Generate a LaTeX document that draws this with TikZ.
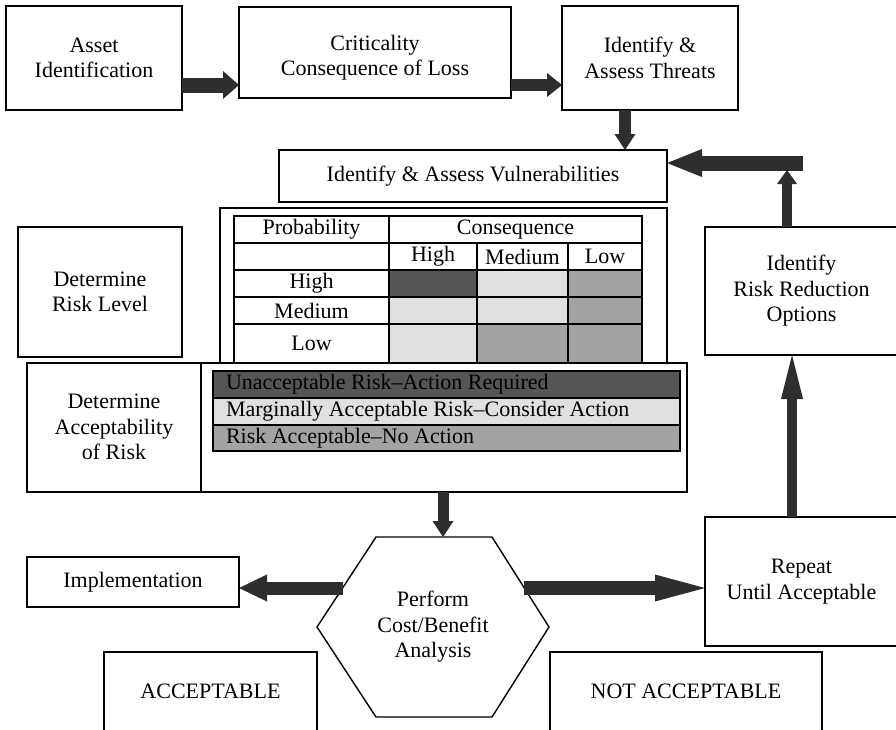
\documentclass[tikz,border=0pt]{standalone}
\usepackage{fontspec}
\setmainfont{Liberation Serif}
\usetikzlibrary{arrows.meta,calc}
\definecolor{arrowfill}{HTML}{2E2E2E}
\definecolor{riskhigh}{HTML}{555555}
\definecolor{riskmid}{HTML}{A3A3A3}
\definecolor{risklow}{HTML}{E0E0E0}
\begin{document}
\begin{tikzpicture}[x=1pt,y=-1pt,
  every node/.style={font=\fontsize{22}{25.5}\selectfont, inner sep=0pt, outer sep=0pt},
  box/.style={draw, line width=1.4pt, fill=white, align=center},
  txt/.style={align=center},
  grid/.style={line width=1.1pt},
  fat/.style n args={3}{draw=arrowfill, line width=#1,
    -{Triangle[width=#2,length=#3,line width=0pt]}},
]
\useasboundingbox (0,0) rectangle (896,729);
\clip (0,0) rectangle (896,729);

% ---- top row of process boxes
\node[box, minimum width=176pt, minimum height=104pt] (asset) at (94,58) {Asset\\Identification};
\node[box, minimum width=272pt, minimum height=91pt] (crit) at (375,52.5) {};
\node[txt] (crit-t) at ([yshift=-5pt]crit.center) {Criticality\\Consequence of Loss};
\node[box, minimum width=176pt, minimum height=104pt] (threats) at (650,58) {Identify \&\\Assess Threats};
\node[box, minimum width=388pt, minimum height=52pt] (vuln) at (473,176) {Identify \& Assess Vulnerabilities};

% ---- risk level matrix
\node[box, minimum width=164pt, minimum height=130pt] (detrisk) at (100,292) {Determine\\Risk Level};
\node[box, minimum width=447pt, minimum height=155pt] (matrixbox) at (443.5,285.5) {};

% cell shading
\fill[riskhigh] (389,270) rectangle (477,297);
\fill[risklow]  (477,270) rectangle (568,297);
\fill[riskmid]  (568,270) rectangle (642,297);
\fill[risklow]  (389,297) rectangle (477,324);
\fill[risklow]  (477,297) rectangle (568,324);
\fill[riskmid]  (568,297) rectangle (642,324);
\fill[risklow]  (389,324) rectangle (477,362);
\fill[riskmid]  (477,324) rectangle (568,362);
\fill[riskmid]  (568,324) rectangle (642,362);

% table rules
\draw[grid] (234,362) -- (234,216) -- (642,216) -- (642,362);
\draw[grid] (234,243) -- (642,243);
\draw[grid] (234,270) -- (642,270);
\draw[grid] (234,297) -- (642,297);
\draw[grid] (234,324) -- (642,324);
\draw[grid] (389,216) -- (389,362);
\draw[grid] (477,243) -- (477,362);
\draw[grid] (568,243) -- (568,362);

% table labels
\node[txt] (hprob) at (311.5,229.5) {Probability};
\node[txt] (hcons) at (515.5,229.5) {Consequence};
\node[txt] (chigh) at (433,256.5) {High};
\node[txt] (cmed)  at (522.5,256.5) {Medium};
\node[txt] (clow)  at (605,256.5) {Low};
\node[txt] (rhigh) at (311.5,283.5) {High};
\node[txt] (rmed)  at (311.5,310.5) {Medium};
\node[txt] (rlow)  at (311.5,343) {Low};

% ---- acceptability of risk
\node[box, minimum width=660pt, minimum height=129pt] (accbox) at (357,427.5) {};
\draw[line width=1.4pt] (accbox.north west -| 201,0) -- (accbox.south west -| 201,0);
\node[txt] (detacc) at (114,427) {Determine\\Acceptability\\of Risk};

\draw[grid, fill=riskhigh] (213,371) rectangle (680,398);
\draw[grid, fill=risklow]  (213,398) rectangle (680,425);
\draw[grid, fill=riskmid]  (213,425) rectangle (680,451);
\node[anchor=west] (leg1) at (226,384.5) {Unacceptable Risk–Action Required};
\node[anchor=west] (leg2) at (226,411.5) {Marginally Acceptable Risk–Consider Action};
\node[anchor=west] (leg3) at (226,438) {Risk Acceptable–No Action};

% ---- feedback loop boxes
\node[box, minimum width=193pt, minimum height=128pt] (rro) at (801.5,291) {Identify\\Risk Reduction\\Options};
\node[box, minimum width=193pt, minimum height=129pt] (repeat) at (801.5,581.5) {Repeat\\Until Acceptable};

% ---- cost/benefit decision
\draw[line width=1.4pt, fill=white] (376,537) -- (492,537) -- (549,627) -- (492,717) -- (376,717) -- (317,627) -- cycle;
\node[txt] (hex) at (433,627) {Perform\\Cost/Benefit\\Analysis};
\node[box, minimum width=212pt, minimum height=50pt] (impl) at (133,582) {Implementation};
\node[box, minimum width=213pt, minimum height=79pt] (acc) at (210.5,691.5) {ACCEPTABLE};
\node[box, minimum width=272pt, minimum height=79pt] (notacc) at (686,691.5) {NOT ACCEPTABLE};

% ---- connector anchor points
\coordinate (hextop) at (443,537);
\coordinate (hexW) at (343,588);
\coordinate (hexE) at (524,588);
\coordinate (barend) at (803,163);
\coordinate (barbot) at (787,170);

% ---- block arrows
\draw[fat={15pt}{28pt}{16pt}] ([yshift=-27pt]asset.east) -- ([yshift=-27pt]asset.east -| crit.west);
\draw[fat={12pt}{24pt}{15pt}] ([yshift=-32.5pt]crit.east) -- ([yshift=-32.5pt]crit.east -| threats.west);
\draw[fat={12pt}{21pt}{16pt}] ([xshift=-25pt]threats.south) -- ([xshift=-25pt]threats.south |- vuln.north);
\draw[fat={15pt}{28pt}{35pt}] (barend) -- (barend -| vuln.east);
\draw[fat={10pt}{20pt}{14pt}] ([xshift=-14.5pt]rro.north) -- (barbot);
\draw[fat={10pt}{22pt}{44pt}] ([xshift=-9.5pt]repeat.north) -- ([xshift=-9.5pt]repeat.north |- rro.south);
\draw[fat={11pt}{21pt}{16pt}] (accbox.south -| hextop) -- (hextop);
\draw[fat={13pt}{27pt}{28pt}] (hexW) -- (hexW -| impl.east);
\draw[fat={14pt}{27pt}{50pt}] (hexE) -- (hexE -| repeat.west);
\end{tikzpicture}
\end{document}
